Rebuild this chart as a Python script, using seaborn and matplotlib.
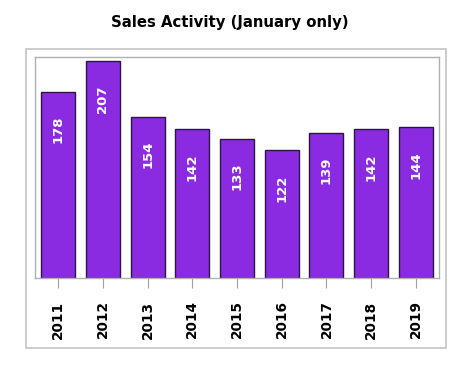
import matplotlib
matplotlib.use("Agg")
import matplotlib.pyplot as plt
import matplotlib.transforms as mtransforms
from matplotlib.patches import Rectangle
import seaborn as sns
import pandas as pd

years = ["2011", "2012", "2013", "2014", "2015", "2016", "2017", "2018", "2019"]
sales = [178, 207, 154, 142, 133, 122, 139, 142, 144]
title = "Sales Activity (January only)"

sns.set_theme(style="white")
plt.rcParams["font.family"] = ["DejaVu Sans"]

W, H = 473, 369
fig = plt.figure(figsize=(W / 100, H / 100), dpi=100)
fig.patch.set_facecolor("white")

# outer frame
fig.patches.append(Rectangle((26 / W, 1 - 348 / H), (446 - 26) / W, (348 - 49) / H,
                             transform=fig.transFigure, fill=False,
                             edgecolor="#c4c4c4", linewidth=1.2, zorder=0))

ax = fig.add_axes([35 / W, 1 - 278 / H, (439 - 35) / W, (278 - 57) / H])
df = pd.DataFrame({"year": years, "sales": sales})
sns.barplot(data=df, x="year", y="sales", color="#8a2be2", saturation=1,
            width=0.76, edgecolor="#2b1640", linewidth=1.0, ax=ax)

ax.set_xlim(-0.52, len(years) - 0.48)
ax.set_ylim(0, max(sales) * 1.02)
ax.set_xlabel("")
ax.set_ylabel("")
ax.set_yticks([])
for s in ax.spines.values():
    s.set_color("#b0b0b0")
    s.set_linewidth(1.0)
ax.tick_params(axis="x", bottom=True, length=7.2, width=0.8, color="#a0a0a0",
               pad=9, labelsize=9.8, labelrotation=90)
for lab in ax.get_xticklabels():
    lab.set_fontweight("bold")
    lab.set_color("black")

off = mtransforms.offset_copy(ax.transData, fig=fig, x=0, y=-24, units="dots")
for i, v in enumerate(sales):
    ax.text(i, v, str(v), transform=off, rotation=90, ha="center", va="top",
            color="white", fontsize=9.5, fontweight="bold")

fig.text(230 / W, 1 - 23 / H, title, ha="center", va="center",
         fontsize=10.7, fontweight="bold", color="black")

fig.savefig("out.png", dpi=100)
